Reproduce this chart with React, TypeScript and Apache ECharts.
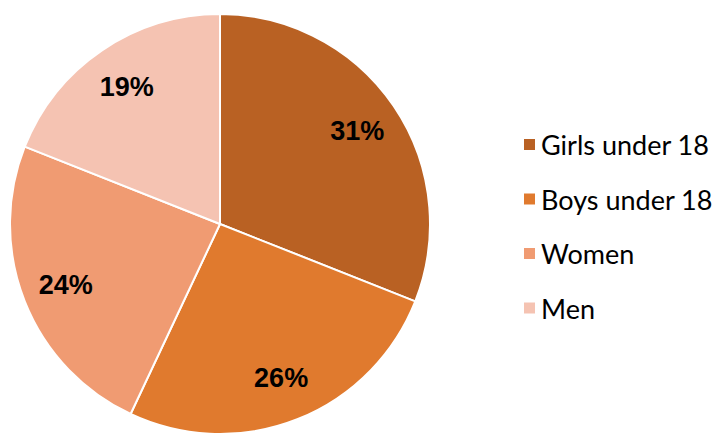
import React, { useEffect, useRef } from "react";
import * as echarts from "echarts";

const categories = ["Girls under 18", "Boys under 18", "Women", "Men"];
const values = [31, 26, 24, 19];
const colors = ["#B96123", "#E07A2E", "#F09B72", "#F5C3B2"];

export default function App() {
  const ref = useRef<HTMLDivElement>(null);
  useEffect(() => {
    document.body.style.margin = "0";
    const chart = echarts.init(ref.current!, null, { renderer: "svg" });
    const data = categories.map((name, i) => ({ name, value: values[i] }));
    chart.setOption({
      animation: false,
      color: colors,
      legend: {
        orient: "vertical",
        left: 517,
        top: 126,
        itemWidth: 13,
        itemHeight: 13,
        itemGap: 27.5,
        icon: "rect",
        textStyle: { fontFamily: "Lato", fontSize: 27, lineHeight: 24, color: "#000" },
        data: categories,
      },
      series: [
        {
          type: "pie",
          center: [220, 224],
          radius: 210,
          startAngle: 90,
          clockwise: true,
          label: { show: false },
          labelLine: { show: false },
          itemStyle: { borderColor: "#fff", borderWidth: 2 },
          emphasis: { disabled: true },
          data,
        },
        {
          type: "pie",
          center: [220, 224],
          radius: 326,
          startAngle: 90,
          clockwise: true,
          silent: true,
          itemStyle: { color: "rgba(0,0,0,0)" },
          label: {
            show: true,
            position: "inside",
            formatter: "{d}%",
            fontFamily: "Liberation Sans, Arial",
            fontWeight: "bold",
            fontSize: 27,
            color: "#000",
            padding: [8, 0, 0, 0],
          },
          labelLine: { show: false },
          emphasis: { disabled: true },
          data,
        },
      ],
    });
    return () => chart.dispose();
  }, []);
  return <div ref={ref} style={{ width: 724, height: 447 }} />;
}
